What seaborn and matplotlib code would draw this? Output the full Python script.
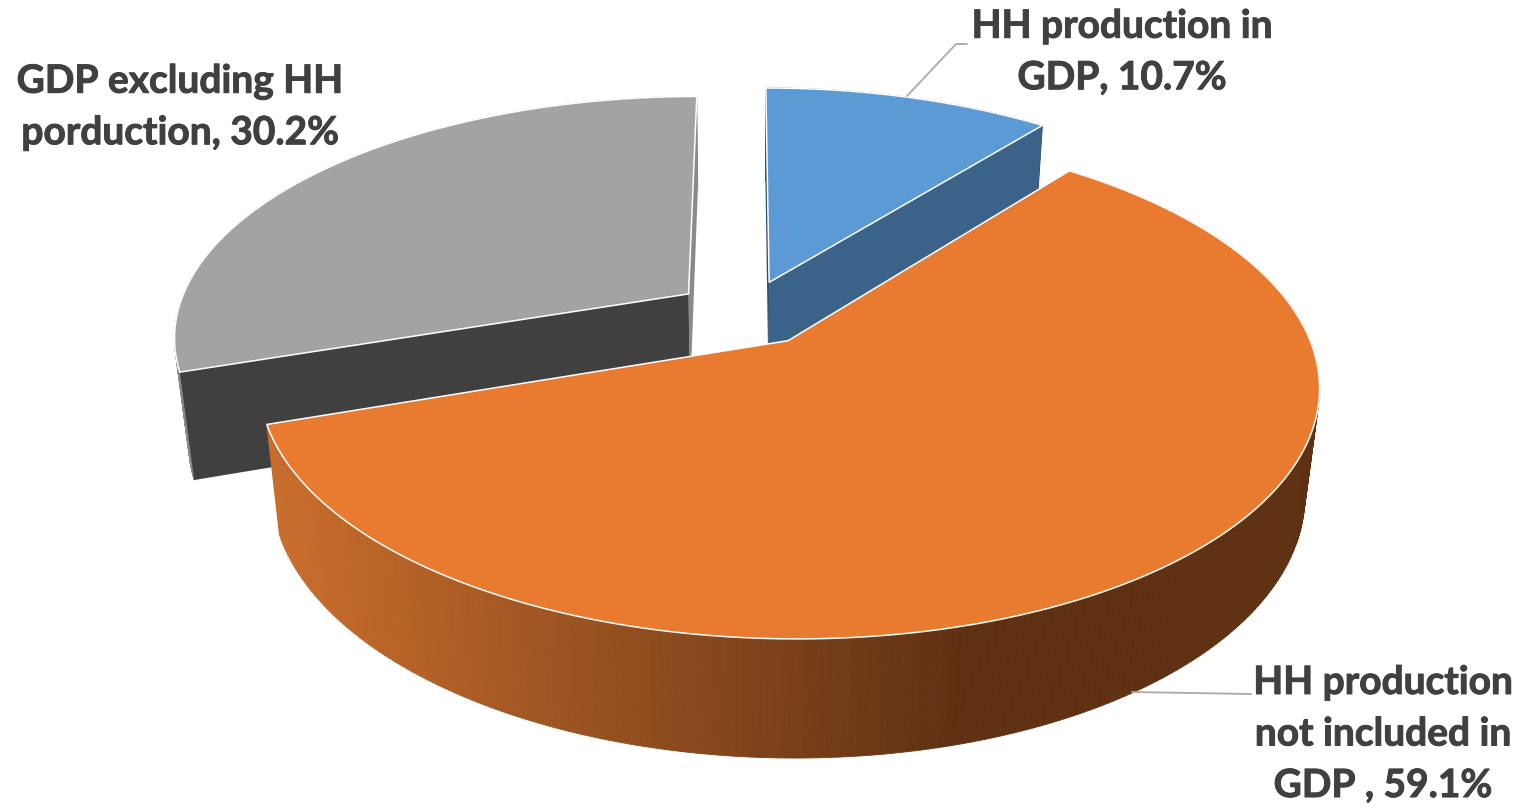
import numpy as np
import matplotlib
matplotlib.use("Agg")
import matplotlib.pyplot as plt
import matplotlib.patheffects as pe
from matplotlib.collections import PolyCollection
import seaborn as sns

# ======================
# DATA
# ======================
slice_names = ["HH production in GDP", "HH production not included in GDP", "GDP excluding HH porduction"]
shares = [10.7, 59.1, 30.2]
label_lines = [
    "HH production in\nGDP, 10.7%",
    "HH production\nnot included in\nGDP , 59.1%",
    "GDP excluding HH\nporduction, 30.2%",
]

# ======================
# STYLE
# ======================
sns.set_theme(style="white")
plt.rcParams["font.family"] = ["Lato", "DejaVu Sans"]

top_colors = sns.color_palette(["#5b9ad5", "#e97b30", "#a3a3a3"])
wall_colors = ["#3b6288", "#5f3112", "#404040"]
sliver_colors = ["#2f4f6e", "#5f3112", "#8a8a8a"]
text_color = "#404040"
leader_color = "#a9a9a9"

label_pos = [(1122, 52), (1383, 734), (180, 107)]
leaders = [[(907, 96), (956, 44), (967, 44)], [(1132, 692), (1251, 694)]]

# camera for the tilted pie (pixel units)
xc, yc = 746, 313
A, B, k = 512, 237, 0.17
depth_h, depth_q = 107.7, 0.025
explode = 0.14


def project(X, Y, down=0.0):
    w = 1 + k * Y + depth_q * down
    return xc + A * X / w, yc - (B * Y - depth_h * down) / w


def arc(cx, cy, t0, t1, down=0.0, n=300):
    t = np.linspace(t0, t1, n)
    x, y = project(cx + np.sin(t), cy + np.cos(t), down)
    return np.column_stack([x, y])


def draw_wall(cx, cy, t, col, z):
    a_top = project(cx, cy)
    a_low = project(cx, cy, 1)
    e_top = arc(cx, cy, t, t, n=1)[0]
    e_low = arc(cx, cy, t, t, 1, n=1)[0]
    pts = np.array([a_top, e_top, e_low, a_low])
    ax.fill(pts[:, 0], pts[:, 1], color=col, lw=0, zorder=z)


# ======================
# SLICE ANGLES
# ======================
fracs = np.array(shares) / np.sum(shares)
ends = np.cumsum(fracs) * 2 * np.pi
starts = ends - fracs * 2 * np.pi
mids = (starts + ends) / 2
offs_x = explode * np.sin(mids)
offs_y = explode * np.cos(mids)

fig, ax = plt.subplots(figsize=(15.27, 8.08), dpi=100)
ax.set_position([0, 0, 1, 1])
ax.set_xlim(0, 1527)
ax.set_ylim(808, 0)
ax.axis("off")

# side gradient of the big slice
grad = sns.blend_palette(["#c96d2c", "#5f3112"], 256)

# back slices first, big one last
for rank, i in enumerate([2, 0, 1]):
    cx, cy = offs_x[i], offs_y[i]
    t0, t1 = starts[i], ends[i]

    # outer wall
    up = arc(cx, cy, t0, t1)
    low = arc(cx, cy, t0, t1, 1)
    quads = [[up[j], up[j + 1], low[j + 1], low[j]] for j in range(len(up) - 1)]
    if i == 1:
        mid_x = (up[:-1, 0] + up[1:, 0]) / 2
        pos = np.clip((mid_x - 270) / (960 - 270), 0, 1)
        cols = [grad[int(p * 255)] for p in pos]
    else:
        cols = [sliver_colors[i]] * len(quads)

    # cut walls: the one on the 12 o'clock side only shows as a sliver
    if i == 2:
        draw_wall(cx, cy, t1, sliver_colors[i], rank + 1.2)
        draw_wall(cx, cy, t0, wall_colors[i], rank + 1.3)
    elif i == 0:
        draw_wall(cx, cy, t0, sliver_colors[i], rank + 1.2)
        draw_wall(cx, cy, t1, wall_colors[i], rank + 1.3)
    ax.add_collection(PolyCollection(quads, facecolors=cols, edgecolors=cols, linewidths=0.6, zorder=rank + 1.1))

    # top face
    poly = np.vstack([project(cx, cy), up])
    ax.fill(poly[:, 0], poly[:, 1], facecolor=top_colors[i], edgecolor="white", lw=1.1,
            joinstyle="miter", zorder=rank + 1.5)

# ======================
# LABELS
# ======================
for pts in leaders:
    pts = np.array(pts)
    ax.plot(pts[:, 0], pts[:, 1], color=leader_color, lw=1.3, zorder=5)

for txt, (lx, ly) in zip(label_lines, label_pos):
    ax.text(lx, ly, txt, ha="center", va="center", fontsize=28, fontweight="bold",
            color=text_color, linespacing=1.57, zorder=6,
            path_effects=[pe.withStroke(linewidth=0.7, foreground=text_color)])

plt.savefig("out.png", dpi=100)
